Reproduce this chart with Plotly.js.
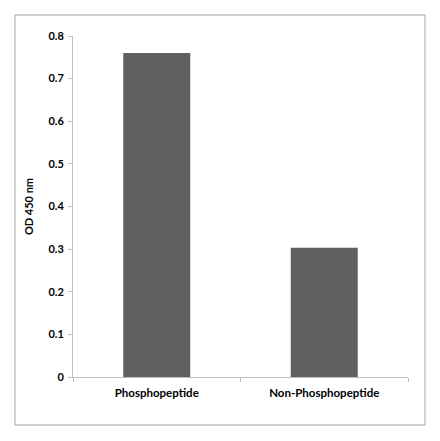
<!DOCTYPE html>
<html>
<head>
<meta charset="utf-8">
<script src="https://cdn.plot.ly/plotly-3.0.1.min.js"></script>
<style>html,body{margin:0;padding:0;background:#fff;}#chart{width:440px;height:441px;}</style>
</head>
<body>
<div id="chart"></div>
<script>
const categories = ["Phosphopeptide", "Non-Phosphopeptide"];
const odValues = [0.76, 0.303];
const yTickVals = [0, 0.1, 0.2, 0.3, 0.4, 0.5, 0.6, 0.7, 0.8];
const yTickText = ["0", "0.1", "0.2", "0.3", "0.4", "0.5", "0.6", "0.7", "0.8"];

const fontFam = "Lato, 'Open Sans', sans-serif";
const trace = {
  type: "bar",
  x: categories,
  y: odValues,
  marker: {color: "#606060", line: {width: 0}},
  hoverinfo: "none"
};
const layout = {
  width: 440, height: 441,
  margin: {l: 73, r: 32, t: 36, b: 64},
  paper_bgcolor: "#ffffff",
  plot_bgcolor: "#ffffff",
  showlegend: false,
  bargap: 0.6,
  font: {family: fontFam, size: 11, color: "#000"},
  xaxis: {
    type: "category",
    showgrid: false,
    zeroline: false,
    showline: true,
    linecolor: "#bfbfbf",
    linewidth: 1,
    ticks: "outside",
    tickson: "boundaries",
    ticklen: 4,
    tickcolor: "#bfbfbf",
    ticklabelstandoff: 5,
    tickfont: {family: fontFam, size: 11.5, color: "#000", weight: "bold"},
    fixedrange: true
  },
  yaxis: {
    range: [0, 0.8],
    tickvals: yTickVals,
    ticktext: yTickText,
    showgrid: false,
    zeroline: false,
    showline: true,
    linecolor: "#bfbfbf",
    linewidth: 1,
    ticks: "outside",
    ticklen: 4,
    tickcolor: "#bfbfbf",
    ticklabelstandoff: 2,
    tickfont: {family: fontFam, size: 11, color: "#000", weight: "bold"},
    title: {text: "OD 450 nm", font: {family: fontFam, size: 11, color: "#000", weight: "bold"}, standoff: 12},
    fixedrange: true
  },
  shapes: [{
    type: "rect", xref: "paper", yref: "paper",
    x0: -0.1731, x1: 1.0507, y0: -0.1408, y1: 1.0616,
    line: {color: "#a6a6a6", width: 1},
    fillcolor: "rgba(0,0,0,0)"
  }]
};
Plotly.newPlot("chart", [trace], layout, {staticPlot: true, displayModeBar: false});
</script>
</body>
</html>
